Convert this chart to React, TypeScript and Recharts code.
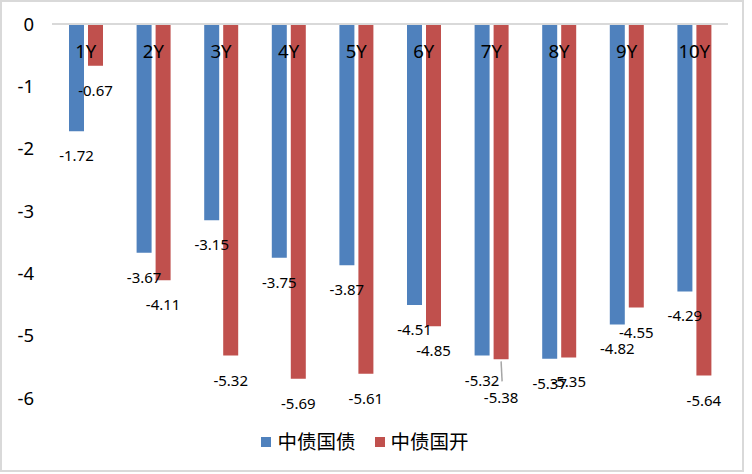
import { BarChart, Bar, XAxis, YAxis, Legend, LabelList } from "recharts"

const tenors = ["1Y", "2Y", "3Y", "4Y", "5Y", "6Y", "7Y", "8Y", "9Y", "10Y"]
const govBond = [-1.72, -3.67, -3.15, -3.75, -3.87, -4.51, -5.32, -5.37, -4.82, -4.29]
const cdbBond = [-0.67, -4.11, -5.32, -5.69, -5.61, -4.85, -5.38, -5.35, -4.55, -5.64]
const yTicks = [0, -1, -2, -3, -4, -5, -6]
const seriesNames = ["中债国债", "中债国开"]

// extra downward shift for crowded data labels (with leader line)
const govLabelShift = [0, 0, 0, 0, 0, 0, 0, 0, 0, 0]
const cdbLabelShift = [0, 0, 0, 0, 0, 0, 14, 0, 0, 0]

const data = tenors.map((t, i) => ({ tenor: t, gov: govBond[i], cdb: cdbBond[i] }))

const font = "'Noto Sans', 'Noto Sans CJK SC', sans-serif"

function makeLabel(shift: number[]) {
  return (props: any) => {
    const vb = props.viewBox || props
    const x = vb.x ?? props.x
    const y = vb.y ?? props.y
    const width = vb.width ?? props.width
    const height = vb.height ?? props.height
    const end = Math.max(y, y + height)
    const extra = shift[props.index] || 0
    const cx = x + width / 2
    return (
      <g>
        {extra > 0 && (
          <line x1={cx} y1={end + 2} x2={cx + 1} y2={end + extra + 8} stroke="#a6a6a6" strokeWidth={1.5} />
        )}
        <text
          x={cx}
          y={end + 24 + extra}
          textAnchor="middle"
          dominantBaseline="central"
          fontSize={15}
          fontFamily={font}
          fill="#000"
        >
          {Number(props.value).toFixed(2)}
        </text>
      </g>
    )
  }
}

const CategoryTick = (props: any) => {
  const { x, y, payload } = props
  return (
    <text x={x} y={y + 26} textAnchor="middle" dominantBaseline="central" fontSize={18.5} fontFamily={font} fill="#000">
      {payload.value}
    </text>
  )
}

const renderLegend = (props: any) => (
  <div
    style={{
      display: "flex",
      justifyContent: "center",
      gap: 19,
      paddingTop: 32,
      fontSize: 19.5,
      fontFamily: font,
      color: "#000",
      lineHeight: "24px",
    }}
  >
    {props.payload.map((p: any) => (
      <div key={p.value} style={{ display: "flex", alignItems: "center" }}>
        <span style={{ width: 10, height: 10, background: p.color, marginRight: 6, display: "inline-block" }} />
        <span>{p.value}</span>
      </div>
    ))}
  </div>
)

export default function App() {
  return (
    <div
      style={{
        position: "absolute",
        left: 0,
        top: 0,
        width: 744,
        height: 472,
        boxSizing: "border-box",
        border: "2px solid #d9d9d9",
        background: "#fff",
      }}
    >
      <BarChart
        width={740}
        height={468}
        data={data}
        margin={{ top: 0, right: 14, bottom: 16, left: 0 }}
        barSize={15}
        barGap={4}
      >
        <YAxis
          type="number"
          domain={[-6, 0]}
          ticks={yTicks}
          width={50}
          axisLine={false}
          tickLine={false}
          tickSize={0}
          tickMargin={18}
          tick={{ fontSize: 18.5, fill: "#000", fontFamily: font }}
        />
        <Bar dataKey="gov" name={seriesNames[0]} fill="#4f81bd" isAnimationActive={false}>
          <LabelList dataKey="gov" content={makeLabel(govLabelShift)} />
        </Bar>
        <Bar dataKey="cdb" name={seriesNames[1]} fill="#c0504d" isAnimationActive={false}>
          <LabelList dataKey="cdb" content={makeLabel(cdbLabelShift)} />
        </Bar>
        <XAxis
          dataKey="tenor"
          orientation="top"
          height={22}
          axisLine={{ stroke: "#d9d9d9", strokeWidth: 2 }}
          tickLine={false}
          tickSize={0}
          tickMargin={0}
          tick={<CategoryTick />}
          interval={0}
        />
        <Legend verticalAlign="bottom" height={56} content={renderLegend} />
      </BarChart>
    </div>
  )
}
